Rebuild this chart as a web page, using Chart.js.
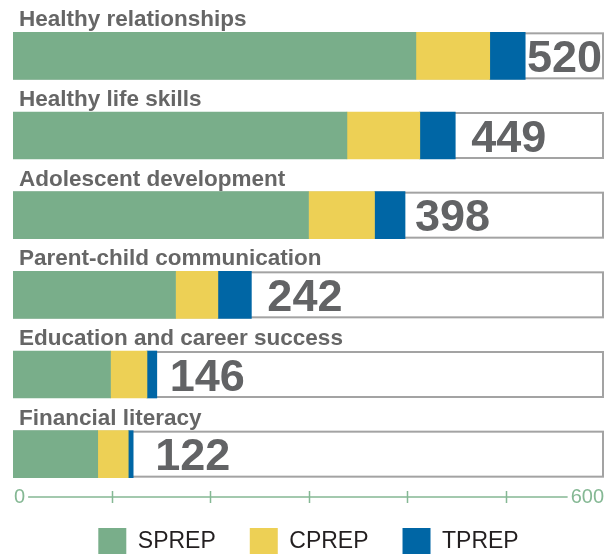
<!DOCTYPE html>
<html>
<head>
<meta charset="utf-8">
<script src="https://cdn.jsdelivr.net/npm/chart.js@4.4.1/dist/chart.umd.min.js"></script>
<style>
  html, body { margin: 0; padding: 0; background: #fff; overflow: hidden; }
  #wrap { width: 615px; height: 566px; position: relative; }
</style>
</head>
<body>
<div id="wrap"><canvas id="topicChart"></canvas></div>
<script>
// values
const topics = ['Healthy relationships', 'Healthy life skills', 'Adolescent development',
                'Parent-child communication', 'Education and career success', 'Financial literacy'];
const sprep = [409, 339, 300, 165, 99, 86];
const cprep = [75, 74, 67, 43, 37, 31];
const tprep = [36, 36, 31, 34, 10, 5];
const totals = [520, 449, 398, 242, 146, 122];
const axisTicks = [0, 100, 200, 300, 400, 500, 600];

const fontFamily = '"Liberation Sans", Arial, Helvetica, sans-serif';
Chart.defaults.font.family = fontFamily;

// gap (px) between the end of a bar and its total, as placed in the original
const totalGap = [14, 16, 10, 16, 13, 22];

// white box behind each bar, topic title above it, total to the right, custom axis
const barDecor = {
    id: 'barDecor',
    beforeDatasetsDraw(chart) {
        const { ctx, scales: { x } } = chart;
        const left = x.getPixelForValue(axisTicks[0]);
        const right = x.getPixelForValue(axisTicks[axisTicks.length - 1]);
        ctx.save();
        chart.getDatasetMeta(0).data.forEach(bar => {
            const { y, height } = bar.getProps(['y', 'height'], true);
            const top = y - height / 2;
            ctx.fillStyle = '#fff';
            ctx.fillRect(left, top, right - left, height);
            ctx.strokeStyle = '#a3a3a3';
            ctx.lineWidth = 2;
            ctx.strokeRect(left + 1, top + 1, right - left - 2, height - 2);
        });
        ctx.restore();
    },
    afterDatasetsDraw(chart) {
        const { ctx, scales: { x }, chartArea } = chart;
        const left = x.getPixelForValue(axisTicks[0]);
        const right = x.getPixelForValue(axisTicks[axisTicks.length - 1]);
        ctx.save();
        chart.getDatasetMeta(0).data.forEach((bar, i) => {
            const { y, height } = bar.getProps(['y', 'height'], true);
            const top = y - height / 2;

            ctx.fillStyle = '#666666';
            ctx.font = 'bold 22.5px ' + fontFamily;
            ctx.textAlign = 'left';
            ctx.textBaseline = 'alphabetic';
            ctx.fillText(topics[i], 19, top - 6);

            ctx.fillStyle = '#626365';
            ctx.font = 'bold 45px ' + fontFamily;
            const label = String(totals[i]);
            const w = ctx.measureText(label).width;
            const lx = Math.min(x.getPixelForValue(totals[i]) + totalGap[i], right - 2 - w);
            ctx.fillText(label, lx, y + 16);
        });

        // axis
        const axisY = chartArea.bottom + 3;
        const green = '#85b894';
        ctx.font = '20px ' + fontFamily;
        ctx.fillStyle = green;
        ctx.textBaseline = 'middle';
        const first = String(axisTicks[0]);
        const last = String(axisTicks[axisTicks.length - 1]);
        const w0 = ctx.measureText(first).width;
        const w1 = ctx.measureText(last).width;
        ctx.textAlign = 'left';
        ctx.fillText(first, left + 1, axisY);
        ctx.textAlign = 'right';
        ctx.fillText(last, right, axisY);

        ctx.strokeStyle = green;
        ctx.lineWidth = 1.5;
        ctx.beginPath();
        ctx.moveTo(left + w0 + 4, axisY);
        ctx.lineTo(right - w1 - 3, axisY);
        axisTicks.slice(1, -1).forEach(v => {
            const px = Math.round(x.getPixelForValue(v)) + 0.5;
            ctx.moveTo(px, axisY - 6);
            ctx.lineTo(px, axisY + 6);
        });
        ctx.stroke();
        ctx.restore();
    }
};

const ctx = document.getElementById('topicChart').getContext('2d');
const topicChart = new Chart(ctx, {
    type: 'bar',
    data: {
        labels: topics,
        datasets: [
            { label: 'SPREP', data: sprep, backgroundColor: '#79ae8a' },
            { label: 'CPREP', data: cprep, backgroundColor: '#edd055' },
            { label: 'TPREP', data: tprep, backgroundColor: '#0066a5' }
        ]
    },
    options: {
        indexAxis: 'y',
        responsive: true,
        maintainAspectRatio: false,
        animation: false,
        datasets: {
            bar: { barThickness: 47, borderWidth: 0 }
        },
        layout: {
            padding: { top: 16, left: 13, right: 11, bottom: 0 }
        },
        scales: {
            x: {
                stacked: true,
                display: false,
                min: axisTicks[0],
                max: axisTicks[axisTicks.length - 1]
            },
            y: {
                stacked: true,
                display: false
            }
        },
        plugins: {
            legend: {
                position: 'bottom',
                labels: {
                    boxWidth: 28,
                    boxHeight: 28,
                    padding: 34,
                    color: '#231f20',
                    font: { size: 23 }
                }
            },
            tooltip: { enabled: false }
        }
    },
    plugins: [barDecor]
});
</script>
</body>
</html>
